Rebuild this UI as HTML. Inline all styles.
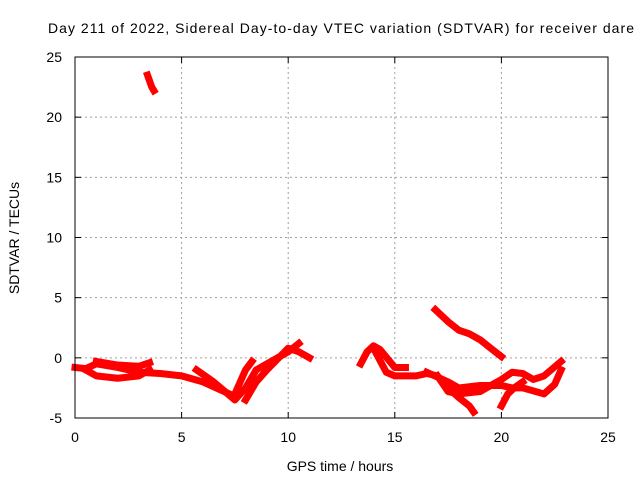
<!DOCTYPE html>
<html><head><meta charset="utf-8"><style>body{margin:0;background:#fff}svg{display:block;font-family:"Liberation Sans",sans-serif}</style></head>
<body>
<svg id="c" width="640" height="480">
<text x="48" y="33" font-size="14" textLength="586" lengthAdjust="spacing">Day 211 of 2022, Sidereal Day-to-day VTEC variation (SDTVAR) for receiver dare</text>
<text x="340" y="471" font-size="14" text-anchor="middle">GPS time / hours</text>
<text transform="translate(19,238) rotate(-90)" font-size="14" text-anchor="middle">SDTVAR / TECUs</text>
<g id="grid"></g><g id="marks"></g>
<rect x="75" y="57" width="533" height="361" fill="none" stroke="#000"/>
</svg>
<script>
const xTicks=[0,5,10,15,20,25];
const yTicks=[-5,0,5,10,15,20,25];
const t1=[[0,-0.8],[0.5,-0.9],[1,-0.5],[2,-0.8],[3,-1.2],[4,-1.3],[5,-1.5],[6,-2],[7,-2.8],[7.5,-3.2]];
const t2=[[0.5,-1],[1,-1.5],[2,-1.7],[3,-1.5],[3.5,-1]];
const t3=[[1,-0.3],[2,-0.6],[3,-0.7],[3.5,-0.4]];
const t4=[[5.7,-1],[6.5,-2],[7.5,-3.5],[8,-2.5],[8.5,-1],[9.5,0],[10,0.5],[10.5,1.2]];
const t5=[[7.5,-3],[8,-1],[8.3,-0.3]];
const t6=[[8,-3.5],[8.5,-2],[9,-1],[10,0.8],[10.5,0.5],[11,0]];
const t7=[[3.4,23.5],[3.5,23],[3.6,22.5],[3.7,22.2]];
const t8=[[13.4,-0.5],[13.7,0.5],[14,1],[14.3,0.7],[15,-0.8],[15.5,-0.8]];
const t9=[[14,0.8],[14.6,-1.2],[15,-1.5],[16,-1.5],[16.5,-1.3],[17,-1.5],[17.5,-2.5],[18,-3.3],[18.5,-4],[18.7,-4.5]];
const t10=[[16.5,-1.2],[17.5,-2],[18,-2.5],[19,-2.3],[20,-2.3],[20.5,-2.5],[21,-2.5],[22,-3],[22.5,-2.2],[22.8,-1]];
const t11=[[17,-1.5],[17.5,-2.8],[18,-3],[19,-2.8],[20,-1.8],[20.5,-1.2],[21,-1.3],[21.5,-1.8],[22,-1.5],[22.8,-0.3]];
const t12=[[20,-4],[20.3,-3],[20.6,-2.5],[21,-2]];
const t13=[[16.9,4],[17.5,3],[18,2.3],[18.5,2],[19,1.5],[19.5,0.8],[20,0.1]];
const tracks=[t1,t2,t3,t4,t5,t6,t7,t8,t9,t10,t11,t12,t13];
const X0=75,X1=608,Y0=418,Y1=57;
const sx=v=>X0+(v-0)/25*(X1-X0);
const sy=v=>Y0-(v+5)/30*(Y0-Y1);
const NS='http://www.w3.org/2000/svg';
const svg=document.getElementById('c'),g=document.getElementById('grid'),m=document.getElementById('marks');
function mk(tag,a,p){const e=document.createElementNS(NS,tag);for(const k in a)e.setAttribute(k,a[k]);p.appendChild(e);return e;}
xTicks.forEach(t=>{const x=sx(t);
 if(t>0&&t<25){const l=mk('line',{x1:x,x2:x,y1:Y1,y2:Y0,stroke:'#a0a0a0','stroke-dasharray':'2,3'},g);
 
 }
 mk('line',{x1:x,x2:x,y1:Y0,y2:Y0-6,stroke:'#000'},g);mk('line',{x1:x,x2:x,y1:Y1,y2:Y1+6,stroke:'#000'},g);
 const tx=mk('text',{x:x,y:Y0+24,'font-size':14,'text-anchor':'middle'},g);tx.textContent=t;
 
 });
yTicks.forEach(t=>{const y=sy(t);
 if(t>-5&&t<25){const l=mk('line',{x1:X0,x2:X1,y1:y,y2:y,stroke:'#a0a0a0','stroke-dasharray':'2,3'},g);
 
 }
 mk('line',{x1:X0,x2:X0+6,y1:y,y2:y,stroke:'#000'},g);mk('line',{x1:X1,x2:X1-6,y1:y,y2:y,stroke:'#000'},g);
 const tx=mk('text',{x:X0-13,y:y+5,'font-size':14,'text-anchor':'end'},g);tx.textContent=t;
 
 });
tracks.forEach(tr=>{const p=mk('polyline',{points:tr.map(d=>sx(d[0])+','+sy(d[1])).join(' '),fill:'none',stroke:'#f00','stroke-width':7,'stroke-linejoin':'round','stroke-linecap':'square'},m);
 
 });
</script>
</body></html>
